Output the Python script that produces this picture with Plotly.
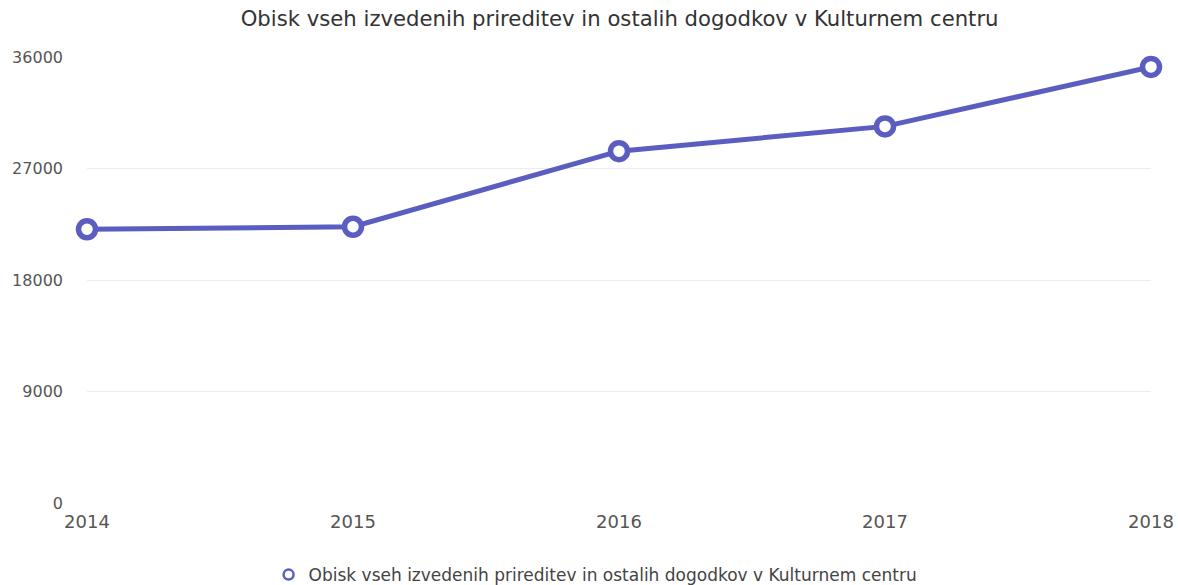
import plotly.graph_objects as go

years = [2014, 2015, 2016, 2017, 2018]
visits = [22100, 22300, 28400, 30400, 35200]
y_ticks = [0, 9000, 18000, 27000, 36000]
series_name = "Obisk vseh izvedenih prireditev in ostalih dogodkov v Kulturnem centru"
title_text = "Obisk vseh izvedenih prireditev in ostalih dogodkov v Kulturnem centru"

color = "#5b5ec0"
font_family = "DejaVu Sans, Arial, sans-serif"

fig = go.Figure()
fig.add_trace(go.Scatter(
    x=years, y=visits, mode="lines+markers", name=series_name,
    line=dict(color=color, width=5),
    marker=dict(symbol="circle", size=17, color="white",
                line=dict(color=color, width=5.5)),
    cliponaxis=False, showlegend=False,
))
# legend entry: marker only
fig.add_trace(go.Scatter(
    x=[None], y=[None], mode="markers", name=series_name,
    marker=dict(symbol="circle", size=10, color="white",
                line=dict(color=color, width=2.5)),
    showlegend=True,
))

fig.update_layout(
    width=1178, height=585,
    paper_bgcolor="white", plot_bgcolor="white",
    margin=dict(l=87, r=27, t=57, b=82, autoexpand=False),
    font=dict(family=font_family, color="#555", size=16),
    title=dict(text=title_text, x=0.526, xanchor="center", y=0.969, yanchor="middle",
               font=dict(size=21.2, color="#333", family=font_family)),
    showlegend=True,
    legend=dict(orientation="h", x=0.478, xanchor="center",
                yref="container", y=0.017, yanchor="middle",
                font=dict(size=17, color="#444", family=font_family),
                itemwidth=30),
    xaxis=dict(range=[2014, 2018], tickvals=years, ticktext=[str(y) for y in years],
               showgrid=False, zeroline=False, showline=False, ticks="",
               ticklabelstandoff=6, automargin=False,
               tickfont=dict(size=18, color="#555", family=font_family)),
    yaxis=dict(range=[0, 36000], tickvals=y_ticks, ticktext=[str(v) for v in y_ticks],
               showgrid=True, gridcolor="#ececec", gridwidth=1, zeroline=False,
               showline=False, ticks="", ticklabelstandoff=23, automargin=False,
               tickfont=dict(size=16, color="#555", family=font_family)),
)

fig.write_html("out.html",
               config={"displayModeBar": False},
               post_script="document.body.style.margin='0';document.body.style.overflow='hidden';")
